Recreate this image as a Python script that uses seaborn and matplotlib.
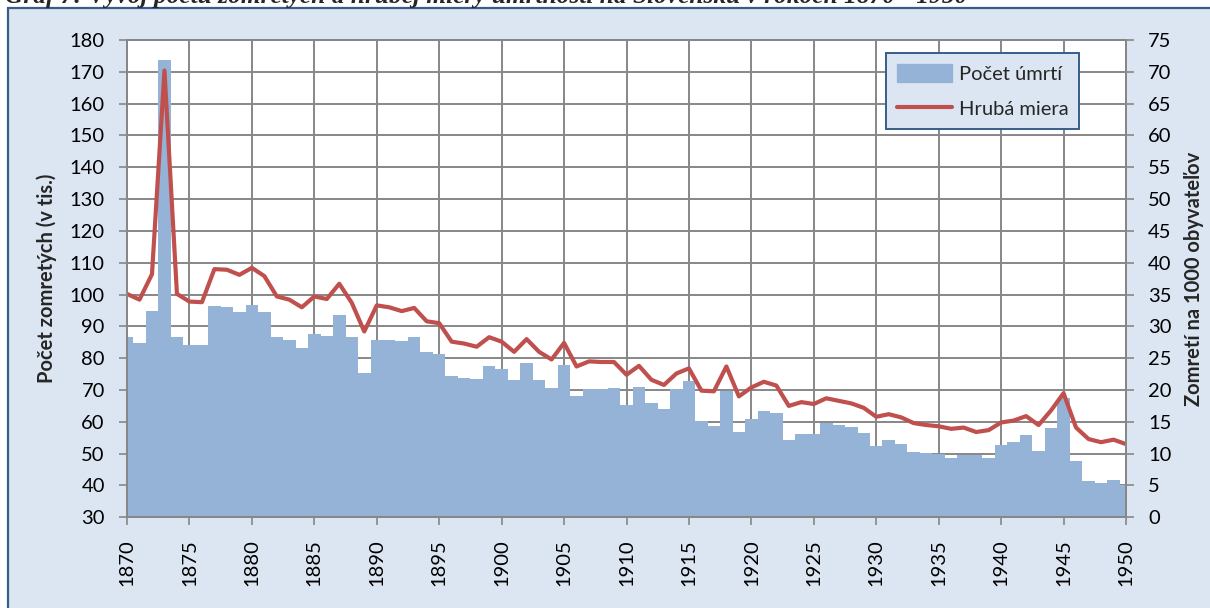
import matplotlib
matplotlib.use("Agg")
import matplotlib.pyplot as plt
from matplotlib.patches import Rectangle, Patch
from matplotlib.lines import Line2D
import seaborn as sns
import numpy as np

years = list(range(1870, 1951))
deaths = [86.8, 84.9, 94.9, 173.8, 86.8, 84.0, 84.0, 96.4, 96.1, 94.6,
          96.8, 94.6, 86.8, 85.8, 83.2, 87.6, 87.1, 93.6, 86.8, 75.2,
          85.8, 85.8, 85.4, 86.8, 82.0, 81.4, 74.4, 73.9, 73.6, 77.6,
          76.6, 73.2, 78.5, 73.2, 70.7, 77.9, 68.2, 70.3, 70.3, 70.6,
          65.3, 71.0, 65.9, 64.1, 70.3, 72.9, 60.4, 58.8, 69.8, 56.9,
          60.9, 63.4, 62.7, 54.3, 56.2, 56.2, 59.7, 58.9, 58.3, 56.4,
          52.4, 54.3, 53.0, 50.5, 50.1, 50.0, 48.6, 49.6, 49.6, 48.6,
          52.7, 53.6, 55.9, 50.7, 58.1, 67.5, 47.7, 41.3, 40.8, 41.7,
          40.1]
rate = [35.1, 34.2, 38.2, 70.2, 35.1, 33.9, 33.8, 39.0, 38.9, 38.1,
        39.2, 37.9, 34.7, 34.2, 33.0, 34.7, 34.3, 36.7, 33.7, 29.2,
        33.3, 33.0, 32.4, 32.9, 30.8, 30.5, 27.6, 27.3, 26.8, 28.3,
        27.6, 26.0, 28.0, 26.0, 24.8, 27.4, 23.7, 24.5, 24.4, 24.4,
        22.4, 23.8, 21.6, 20.8, 22.6, 23.4, 19.9, 19.8, 23.7, 19.0,
        20.4, 21.3, 20.7, 17.5, 18.1, 17.8, 18.7, 18.3, 17.9, 17.2,
        15.8, 16.2, 15.7, 14.8, 14.5, 14.3, 13.9, 14.1, 13.4, 13.7,
        14.9, 15.2, 15.9, 14.5, 16.8, 19.5, 14.1, 12.3, 11.8, 12.2,
        11.5]
x_ticks = list(range(1870, 1951, 5))
left_ticks = list(range(30, 181, 10))
right_ticks = list(range(0, 76, 5))

title = "Graf 7: Vývoj počtu zomretých a hrubej miery úmrtnosti na Slovensku v rokoch 1870 - 1950"
ylabel_left = "Počet zomretých (v tis.)"
ylabel_right = "Zomretí na 1000 obyvateľov"
legend_labels = ["Počet úmrtí", "Hrubá miera"]

BG = "#DCE6F2"
BAR = "#95B3D7"
LINE = "#C0504D"
GRID = "#878787"
BORDER = "#385D8A"

sns.set_theme(style="white")
plt.rcParams["font.family"] = ["Lato", "DejaVu Sans"]

fig = plt.figure(figsize=(12.1, 6.08), dpi=100, facecolor="white")
W, H = 1210, 608

# outer chart frame
fig.patches.append(Rectangle((8 / W, -0.02), 1.02, 1 - 8 / H + 0.02,
                             transform=fig.transFigure, facecolor=BG,
                             edgecolor=BORDER, linewidth=1.6, zorder=-5))

fig.text(5 / W, 1 - 3 / H, title, fontsize=18.3, fontweight="bold",
         fontstyle="italic", family=["Liberation Serif", "DejaVu Serif"],
         ha="left", va="baseline", zorder=5)

ax = fig.add_axes([127 / W, 1 - 517.3 / H, 999 / W, 477.3 / H])
ax.set_facecolor("white")

sns.barplot(x=years, y=deaths, ax=ax, native_scale=True, width=1.0,
            color=BAR, saturation=1, linewidth=0, edgecolor=BAR, zorder=2)
ax.set_xlim(1870, 1950)
ax.set_ylim(30, 180)
ax.set_yticks(left_ticks)
ax.set_xticks(x_ticks)
ax.set_xticklabels([str(t) for t in x_ticks], rotation=90)
ax.grid(True, color=GRID, linewidth=1.4, zorder=1)
ax.set_axisbelow(True)
ax.tick_params(axis="both", labelsize=14.5, colors=GRID, labelcolor="black",
               length=6, width=1.2, direction="out", pad=10)
ax.tick_params(axis="y", left=True)
ax.tick_params(axis="x", bottom=True)
for s in ax.spines.values():
    s.set_color(GRID)
    s.set_linewidth(1.4)
ax.set_ylabel(ylabel_left, fontsize=14.5, fontweight="bold", labelpad=9)
ax.set_xlabel("")

ax2 = ax.twinx()
sns.lineplot(x=years, y=rate, ax=ax2, color=LINE, linewidth=3.0)
ax2.set_ylim(0, 75)
ax2.set_yticks(right_ticks)
ax2.set_xlim(1870, 1950)
ax2.tick_params(axis="y", labelsize=14.5, colors=GRID, labelcolor="black",
                length=6, width=1.2, direction="out", pad=10, right=True)
for s in ax2.spines.values():
    s.set_color(GRID)
    s.set_linewidth(1.4)
ax2.set_ylabel(ylabel_right, fontsize=14.5, fontweight="bold", labelpad=9)

handles = [Patch(facecolor=BAR, edgecolor=BAR),
           Line2D([0], [0], color=LINE, linewidth=3.0)]
leg = ax2.legend(handles, legend_labels, loc="upper left",
                 bbox_to_anchor=(0.76, 0.973), fontsize=14.5, frameon=True,
                 fancybox=False, facecolor=BG, edgecolor=BORDER,
                 framealpha=1, handlelength=2.7, handleheight=1.0,
                 borderpad=0.55, labelspacing=0.8, handletextpad=0.35,
                 borderaxespad=0)
leg.get_frame().set_linewidth(1.4)

fig.savefig("out.png", dpi=100, facecolor="white")
